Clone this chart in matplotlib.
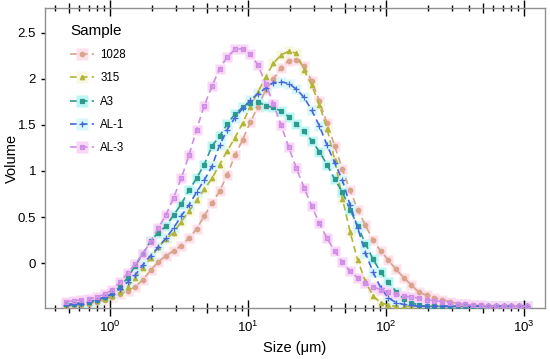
import matplotlib
matplotlib.use("Agg")
import matplotlib.pyplot as plt
from matplotlib.legend_handler import HandlerTuple
from matplotlib.ticker import NullLocator

plt.rcParams["font.family"] = ["Liberation Sans", "DejaVu Sans"]
plt.rcParams["mathtext.default"] = "regular"

# particle size bins (um)
size_um = [0.479, 0.546, 0.620, 0.705, 0.801, 0.911, 1.036, 1.177, 1.338, 1.520,
           1.728, 1.964, 2.232, 2.537, 2.884, 3.278, 3.726, 4.234, 4.813, 5.471,
           6.218, 7.067, 8.033, 9.130, 10.38, 11.80, 13.41, 15.24, 17.32, 19.69,
           22.38, 25.44, 28.91, 32.86, 37.35, 42.45, 48.25, 54.85, 62.34, 70.86,
           80.54, 91.55, 104.1, 118.3, 134.5, 152.8, 173.7, 197.4, 224.4, 255.1,
           289.9, 329.5, 374.5, 425.7, 483.9, 550.0, 625.1, 710.5, 807.6, 917.9,
           1043.0]

vol_1028 = [-0.47, -0.46, -0.45, -0.44, -0.42, -0.40, -0.37, -0.34, -0.30, -0.26, -0.18, -0.08,
            0.01, 0.08, 0.13, 0.19, 0.27, 0.37, 0.51, 0.65, 0.78, 0.96, 1.17, 1.34,
            1.53, 1.70, 1.88, 2.00, 2.12, 2.20, 2.21, 2.14, 1.98, 1.76, 1.52, 1.27,
            1.02, 0.79, 0.58, 0.41, 0.25, 0.13, 0.03, -0.07, -0.16, -0.24, -0.32, -0.35,
            -0.38, -0.40, -0.42, -0.44, -0.45, -0.46, -0.46, -0.47, -0.47, -0.47, -0.47, -0.47, -0.47]
vol_315 = [-0.46, -0.45, -0.44, -0.43, -0.41, -0.39, -0.36, -0.32, -0.26, -0.16, -0.05, 0.05,
           0.17, 0.26, 0.33, 0.45, 0.56, 0.68, 0.80, 0.92, 1.07, 1.22, 1.36, 1.52,
           1.70, 1.86, 2.02, 2.17, 2.26, 2.30, 2.28, 2.10, 1.93, 1.72, 1.46, 1.12,
           0.70, 0.34, 0.03, -0.20, -0.36, -0.43, -0.46, -0.47, -0.47, -0.47, -0.47, -0.47,
           -0.47, -0.47, -0.47, -0.47, -0.47, -0.47, -0.47, -0.47, -0.47, -0.47, -0.47, -0.47, -0.47]
vol_a3 = [-0.45, -0.44, -0.43, -0.42, -0.40, -0.37, -0.33, -0.26, -0.16, -0.03, 0.10, 0.24,
          0.33, 0.40, 0.52, 0.64, 0.79, 0.92, 1.07, 1.27, 1.38, 1.51, 1.62, 1.69,
          1.74, 1.75, 1.71, 1.69, 1.65, 1.59, 1.51, 1.43, 1.33, 1.21, 1.07, 0.91,
          0.77, 0.58, 0.40, 0.21, 0.04, -0.10, -0.21, -0.31, -0.39, -0.43, -0.46, -0.47,
          -0.47, -0.47, -0.47, -0.47, -0.47, -0.47, -0.47, -0.47, -0.47, -0.47, -0.47, -0.47, -0.47]
vol_al1 = [-0.46, -0.45, -0.44, -0.42, -0.40, -0.37, -0.34, -0.28, -0.21, -0.13, -0.02, 0.08,
           0.17, 0.27, 0.38, 0.51, 0.63, 0.77, 0.90, 1.05, 1.28, 1.45, 1.58, 1.68,
           1.77, 1.84, 1.90, 1.96, 1.97, 1.95, 1.89, 1.80, 1.66, 1.49, 1.28, 1.09,
           0.90, 0.63, 0.38, 0.11, -0.10, -0.27, -0.38, -0.43, -0.45, -0.46, -0.47, -0.47,
           -0.47, -0.47, -0.47, -0.47, -0.47, -0.47, -0.47, -0.47, -0.47, -0.47, -0.47, -0.47, -0.47]
vol_al3 = [-0.42, -0.41, -0.40, -0.39, -0.37, -0.34, -0.29, -0.21, -0.11, -0.01, 0.10, 0.23,
           0.38, 0.52, 0.71, 0.92, 1.17, 1.45, 1.71, 1.92, 2.11, 2.24, 2.32, 2.33,
           2.27, 2.15, 1.95, 1.73, 1.50, 1.26, 1.03, 0.82, 0.62, 0.43, 0.27, 0.13,
           0.01, -0.09, -0.16, -0.22, -0.26, -0.29, -0.32, -0.34, -0.36, -0.37, -0.38, -0.40,
           -0.41, -0.42, -0.43, -0.44, -0.45, -0.46, -0.46, -0.47, -0.47, -0.47, -0.47, -0.47, -0.47]

samples = ["1028", "315", "A3", "AL-1", "AL-3"]
volumes = [vol_1028, vol_315, vol_a3, vol_al1, vol_al3]
colors = ["#d9a38c", "#b3b43a", "#2e9a8c", "#4668dd", "#cf8ee6"]
halos = ["#fde0ea", "#f8f8e2", "#bdf7f5", "#d8f7fb", "#fad6f7"]
markers = ["o", "^", "s", "+", "s"]

fig, ax = plt.subplots(figsize=(5.5, 3.59), dpi=100)
fig.subplots_adjust(left=0.082, right=0.991, bottom=0.142, top=0.978)

# light glow behind the points
for vol, hc in zip(volumes, halos):
    ax.plot(size_um, vol, ls="none", marker="s", ms=6.5, color=hc, mec="none", zorder=1)

handles = []
for name, vol, c, hc, m in zip(samples, volumes, colors, halos, markers):
    mfc = "none" if name == "AL-3" else c
    ms = 5 if m == "+" else 3.2
    line, = ax.plot(size_um, vol, ls=(0, (4, 2.5)), lw=1.2, color=c, marker=m,
                    ms=ms, mfc=mfc, mec=c, mew=0.9, zorder=3)
    halo = plt.Line2D([], [], ls="none", marker="s", ms=8, color=hc, mec="none")
    parts = [halo, line]
    if name == "AL-3":
        xm, = ax.plot(size_um, vol, ls="none", marker="x", ms=2.5, color=c, mew=0.7, zorder=3)
        parts.append(xm)
    handles.append(tuple(parts))

ax.set_xscale("log")
ax.set_xlim(0.338, 1420)
ax.set_ylim(-0.489, 2.772)

ax.set_xticks([1, 10, 100, 1000])
ax.set_xticklabels(["$10^0$", "$10^1$", "$10^2$", "$10^3$"])
minor = [k * 10.0 ** e for e in range(-1, 3) for k in (2, 3, 4, 6, 7, 8, 9)]
ax.set_xticks([v for v in minor if 0.338 < v < 1420], minor=True)
ax.tick_params(axis="x", which="major", direction="inout", length=11, width=1,
               top=True, labelsize=9.5, pad=3)
ax.tick_params(axis="x", which="minor", direction="inout", length=4, width=1, top=True)

for side in ("bottom", "top"):
    sec = ax.secondary_xaxis(side)
    sec.set_xticks([0.5, 5, 50, 500])
    sec.set_xticklabels([])
    sec.xaxis.set_minor_locator(NullLocator())
    sec.tick_params(direction="inout", length=7, width=1)
    for sp in sec.spines.values():
        sp.set_visible(False)

ax.set_yticks([0, 0.5, 1, 1.5, 2, 2.5])
ax.set_yticklabels(["0", "0.5", "1", "1.5", "2", "2.5"])
ax.tick_params(axis="y", direction="out", length=3, width=1, labelsize=9.5)

for sp in ax.spines.values():
    sp.set_color("#8f8f8f")
    sp.set_linewidth(1)

ax.set_xlabel("Size (\u03bcm)", fontsize=10.5, labelpad=4)
ax.set_ylabel("Volume", fontsize=10.5)
ax.yaxis.set_label_coords(-0.052, 0.5)

leg = ax.legend(handles, samples, title="Sample", loc="upper left",
                bbox_to_anchor=(0.03, 0.981), frameon=False, fontsize=8.3,
                title_fontsize=11, alignment="left", handlelength=2.0,
                labelspacing=0.98, handletextpad=0.6,
                handler_map={tuple: HandlerTuple(ndivide=1)})
leg._legend_box.sep = 8

fig.savefig("out.png", dpi=100)
